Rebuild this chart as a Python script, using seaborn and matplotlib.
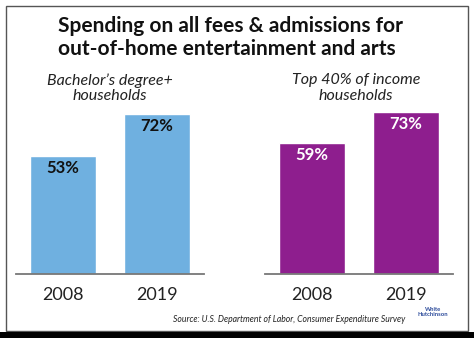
import matplotlib
matplotlib.use("Agg")
import matplotlib.pyplot as plt
import seaborn as sns
import pandas as pd
from matplotlib.patches import Rectangle

years = ["2008", "2019"]
bachelor_values = [53, 72]
income_values = [59, 73]
bachelor_labels = ["53%", "72%"]
income_labels = ["59%", "73%"]
title = "Spending on all fees & admissions for\nout-of-home entertainment and arts"
sub_left = "Bachelor\u2019s degree+\nhouseholds"
sub_right = "Top 40% of income\nhouseholds"
source = "Source: U.S. Department of Labor, Consumer Expenditure Survey"

sns.set_style("white")
plt.rcParams["font.family"] = ["Lato", "DejaVu Sans"]

W, H = 474, 338
fig = plt.figure(figsize=(W / 100, H / 100), dpi=100)
fig.patch.set_facecolor("white")

def px_axes(x0, y0, x1, y1):
    return fig.add_axes([x0 / W, 1 - y1 / H, (x1 - x0) / W, (y1 - y0) / H])

# border and bottom band
fig.patches.append(Rectangle((6 / W, 1 - 331 / H), 462 / W, 325 / H, transform=fig.transFigure,
                             fill=False, edgecolor="#555555", linewidth=1.0))
fig.patches.append(Rectangle((0, 0), 1, 6 / H, transform=fig.transFigure,
                             facecolor="black", edgecolor="none"))

ymax = 174 / 2.22

panels = [
    (16, 204, bachelor_values, bachelor_labels, "#6FB0E0", "#111111"),
    (265, 453, income_values, income_labels, "#8E1E8E", "white"),
]
for x0, x1, vals, labs, color, tcol in panels:
    ax = px_axes(x0, 100, x1, 274)
    df = pd.DataFrame({"year": years, "value": vals})
    sns.barplot(data=df, x="year", y="value", color=color, saturation=1,
                width=0.71, ax=ax)
    ax.set_xlim(-0.5, 1.5)
    ax.set_ylim(0, ymax)
    ax.set_xlabel("")
    ax.set_ylabel("")
    ax.set_yticks([])
    for s in ["top", "left", "right"]:
        ax.spines[s].set_visible(False)
    ax.spines["bottom"].set_color("#777777")
    ax.spines["bottom"].set_linewidth(1.3)
    ax.tick_params(axis="x", length=0, pad=9, labelsize=13, labelcolor="#222222")
    ax.patch.set_alpha(0)
    for i, (v, lab) in enumerate(zip(vals, labs)):
        ax.annotate(lab, xy=(i, v), xytext=(0, -12), textcoords="offset pixels",
                    ha="center", va="center", fontsize=12, fontweight="bold",
                    color=tcol)

fig.text(58 / W, 1 - 16 / H, title, ha="left", va="top", fontsize=15,
         fontweight="bold", color="#111111", linespacing=1.2)
fig.text(110 / W, 1 - 88 / H, sub_left, ha="center", va="center", fontsize=11.5,
         style="italic", color="#222222", linespacing=1.1)
fig.text(356 / W, 1 - 88 / H, sub_right, ha="center", va="center", fontsize=11.5,
         style="italic", color="#222222", linespacing=1.1)
fig.text(405 / W, 1 - 320 / H, source, ha="right", va="center", fontsize=6.2,
         style="italic", color="#222222")
fig.text(433 / W, 1 - 312 / H, "White\nHutchinson", ha="center", va="center",
         fontsize=4.2, fontweight="bold", color="#2B4A9A", linespacing=0.9)

fig.savefig("out.png", dpi=100)
